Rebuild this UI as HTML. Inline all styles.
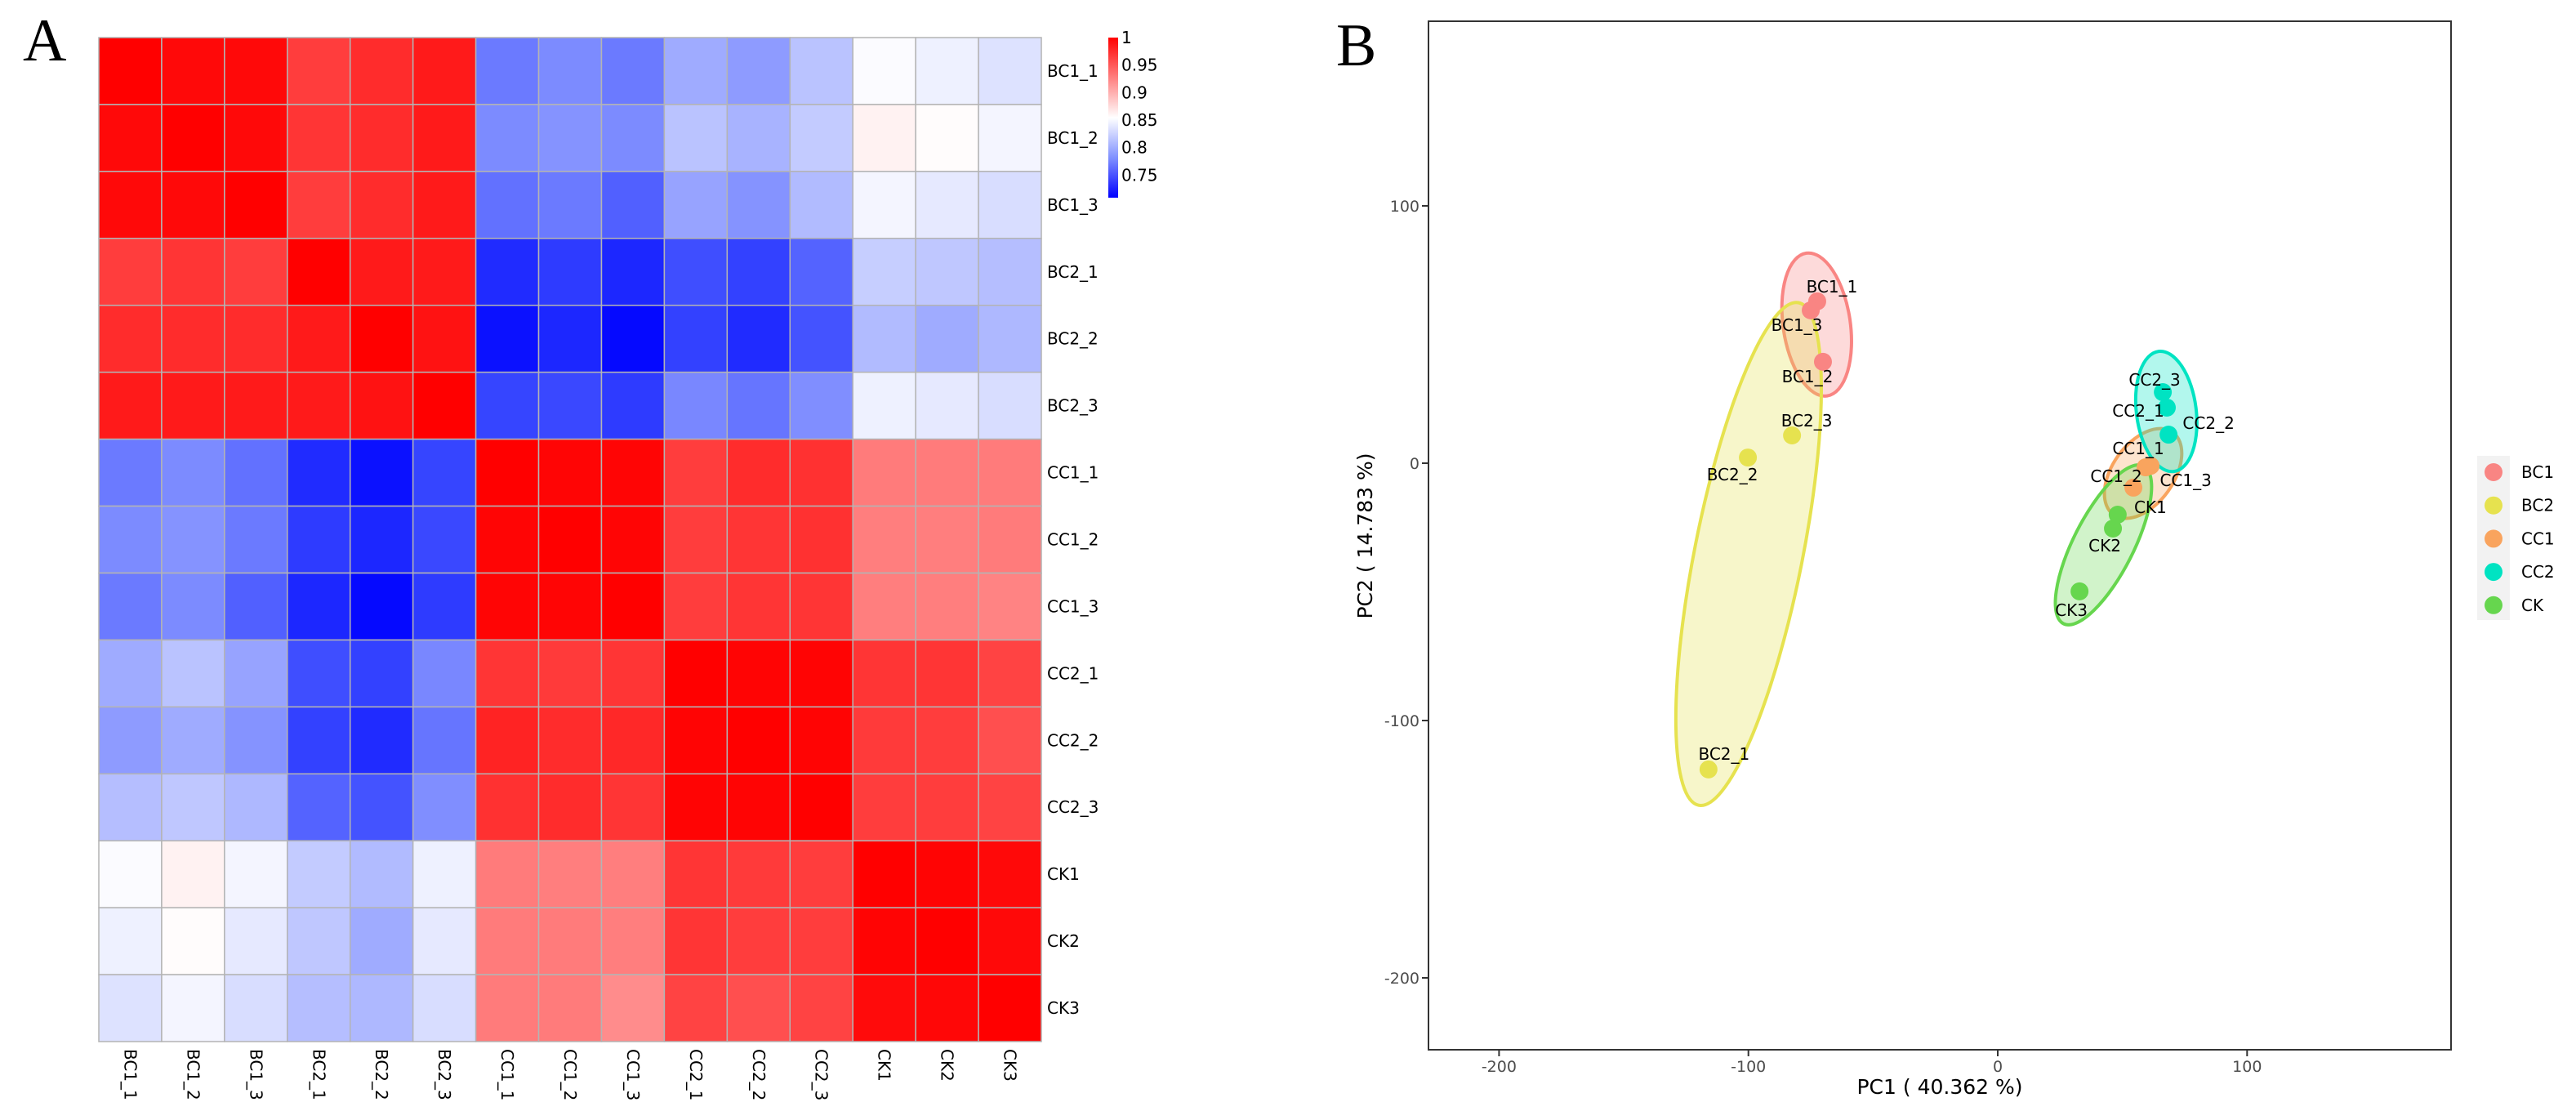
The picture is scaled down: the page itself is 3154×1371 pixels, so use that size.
<!DOCTYPE html>
<html><head><meta charset="utf-8">
<style>
html,body{margin:0;padding:0;background:#fff;}
svg{display:block;}
text{font-family:"DejaVu Sans","Liberation Sans",sans-serif;}
</style></head>
<body>
<svg id="fig" width="3154" height="1371" viewBox="0 0 3154 1371" xmlns="http://www.w3.org/2000/svg">
<rect width="3154" height="1371" fill="#fff"/>
<text x="28" y="74" font-size="74" style="font-family:'Liberation Serif',serif">A</text>
<text x="1636" y="80" font-size="74" style="font-family:'Liberation Serif',serif">B</text>
<g id="heat"></g>
<g id="pca"></g>
</svg>
<script>
const samples = ["BC1_1","BC1_2","BC1_3","BC2_1","BC2_2","BC2_3","CC1_1","CC1_2","CC1_3","CC2_1","CC2_2","CC2_3","CK1","CK2","CK3"];
const corr = [
[1,0.995,0.995,0.965,0.975,0.985,0.77,0.78,0.77,0.80,0.79,0.815,0.852,0.845,0.835],
[0.995,1,0.995,0.97,0.975,0.985,0.78,0.785,0.78,0.815,0.805,0.82,0.862,0.856,0.848],
[0.995,0.995,1,0.965,0.975,0.985,0.765,0.77,0.755,0.795,0.785,0.81,0.848,0.84,0.832],
[0.965,0.97,0.965,1,0.985,0.985,0.727,0.735,0.725,0.745,0.738,0.757,0.822,0.818,0.812],
[0.975,0.975,0.975,0.985,1,0.99,0.715,0.725,0.712,0.738,0.727,0.748,0.81,0.8,0.808],
[0.985,0.985,0.985,0.985,0.99,1,0.74,0.742,0.735,0.778,0.767,0.782,0.845,0.84,0.832],
[0.77,0.78,0.765,0.727,0.715,0.74,1,0.997,0.997,0.965,0.975,0.972,0.93,0.93,0.93],
[0.78,0.785,0.77,0.735,0.725,0.742,0.997,1,0.997,0.965,0.97,0.972,0.928,0.928,0.93],
[0.77,0.78,0.755,0.725,0.712,0.735,0.997,0.997,1,0.965,0.97,0.97,0.928,0.928,0.925],
[0.80,0.815,0.795,0.745,0.738,0.778,0.97,0.967,0.97,1,0.998,0.998,0.97,0.97,0.962],
[0.79,0.80,0.785,0.738,0.727,0.767,0.98,0.975,0.977,0.998,1,0.998,0.967,0.965,0.955],
[0.812,0.818,0.808,0.757,0.748,0.782,0.972,0.975,0.97,0.998,0.998,1,0.965,0.965,0.962],
[0.852,0.862,0.848,0.82,0.81,0.845,0.93,0.928,0.928,0.97,0.967,0.965,1,0.998,0.995],
[0.845,0.856,0.84,0.818,0.80,0.84,0.93,0.93,0.928,0.97,0.965,0.965,0.998,1,0.995],
[0.835,0.848,0.832,0.812,0.808,0.832,0.93,0.93,0.92,0.962,0.955,0.962,0.994,0.996,1]];
const colorbarTicks = [1,0.95,0.9,0.85,0.8,0.75];

const groups = ["BC1","BC2","CC1","CC2","CK"];
const groupColors = ["#F98583","#E6E24F","#F9A45E","#00E3C2","#66D64E"];
const pcaLabels = ["BC1_1","BC1_3","BC1_2","BC2_1","BC2_2","BC2_3","CC1_1","CC1_3","CC1_2","CC2_3","CC2_1","CC2_2","CK1","CK2","CK3"];
const pcaGroup = ["BC1","BC1","BC1","BC2","BC2","BC2","CC1","CC1","CC1","CC2","CC2","CC2","CK","CK","CK"];
const pc1 = [-72.4,-75,-70.1,-116,-100.2,-82.5,59.3,61.3,54.4,66.2,67.8,68.5,48.1,46.2,32.8];
const pc2 = [62.9,59.4,39.4,-119,2.2,10.8,-1.6,-1,-9.5,27.6,21.6,11.1,-20,-25.4,-49.8];
const xTicks = [-200,-100,0,100];
const yTicks = [100,0,-100,-200];

const NS="http://www.w3.org/2000/svg";
function mk(tag,attrs,parent){const e=document.createElementNS(NS,tag);for(const k in attrs)e.setAttribute(k,attrs[k]);parent.appendChild(e);return e;}

// ---------- Heatmap ----------
const heat=document.getElementById('heat');
const HX0=121,HY0=46,CW=(1275-121)/15,CH=(1275-46)/15;
const vmin=0.709,vmax=1.0,vmid=(vmin+vmax)/2;
function colorOf(v){
  v=Math.max(vmin,Math.min(vmax,v));
  if(v>=vmid){const t=(v-vmid)/(vmax-vmid);const g=Math.round(255*(1-t));return `rgb(255,${g},${g})`;}
  const t=(vmid-v)/(vmid-vmin);
  const r=Math.round(255*Math.pow(1-t,1.0)), g=Math.round(255*Math.pow(1-t,0.85));
  return `rgb(${r},${g},255)`;
}
const colX=i=>HX0+i*CW, rowY=i=>HY0+i*CH;
for(let r=0;r<samples.length;r++){
  for(let c=0;c<samples.length;c++){
    const cell=mk('rect',{x:colX(c),y:rowY(r),width:CW,height:CH,fill:colorOf(corr[r][c]),stroke:'#b4b4b4','stroke-width':1.5},heat);
    
    
  }
  const rl=mk('text',{x:1282,y:rowY(r)+CH/2+7,'font-size':20,fill:'#000'},heat);
  rl.textContent=samples[r];
  
  
}
for(let c=0;c<samples.length;c++){
  const cx=colX(c)+CW/2-7, cy=1284;
  const cl=mk('text',{x:cx,y:cy,'font-size':20,fill:'#000',transform:`rotate(90 ${cx} ${cy})`},heat);
  cl.textContent=samples[c];
  
  
}
// colorbar
const CBX=1357,CBW=12,CBT=46,CBB=242;
const cbY=v=>CBT+(vmax-v)/(vmax-vmin)*(CBB-CBT);
const defs=mk('defs',{},heat);
const lg=mk('linearGradient',{id:'cbg',x1:0,y1:0,x2:0,y2:1},defs);
mk('stop',{offset:'0','stop-color':'rgb(255,0,0)'},lg);
mk('stop',{offset:'0.5','stop-color':'rgb(255,255,255)'},lg);
mk('stop',{offset:'0.75','stop-color':'rgb(128,145,255)'},lg);
mk('stop',{offset:'1','stop-color':'rgb(0,0,255)'},lg);
const cb=mk('rect',{x:CBX,y:CBT,width:CBW,height:CBB-CBT,fill:'url(#cbg)'},heat);


colorbarTicks.forEach(v=>{
  const t=mk('text',{x:CBX+CBW+4,y:cbY(v)+7,'font-size':20,fill:'#000'},heat);
  t.textContent=String(v);
  
  
});

// ---------- PCA ----------
const pca=document.getElementById('pca');
const PX0=1749,PX1=3001,PY0=26,PY1=1285;
const XZ=2446,XS=3.053,YZ=567,YS=3.15;
const sx=v=>XZ+v*XS, sy=v=>YZ-v*YS;
groups.forEach((g,gi)=>{
  const pts=[];
  pcaGroup.forEach((pg,i)=>{if(pg===g)pts.push([sx(pc1[i]),sy(pc2[i])]);});
  const n=pts.length;
  const mx=pts.reduce((a,p)=>a+p[0],0)/n, my=pts.reduce((a,p)=>a+p[1],0)/n;
  let sxx=0,syy=0,sxy=0;
  pts.forEach(p=>{const dx=p[0]-mx,dy=p[1]-my;sxx+=dx*dx;syy+=dy*dy;sxy+=dx*dy;});
  const ang=0.5*Math.atan2(2*sxy,sxx-syy);
  const ux=Math.cos(ang),uy=Math.sin(ang),vx=-uy,vy=ux;
  let tmin=1e9,tmax=-1e9,smin=1e9,smax=-1e9;
  pts.forEach(p=>{const dx=p[0]-mx,dy=p[1]-my;const t=dx*ux+dy*uy,s=dx*vx+dy*vy;
    tmin=Math.min(tmin,t);tmax=Math.max(tmax,t);smin=Math.min(smin,s);smax=Math.max(smax,s);});
  const cx=mx+vx*(smin+smax)/2, cy=my+vy*(smin+smax)/2;
  const a=(tmax-tmin)/2*1.3+40, b=(smax-smin)/2*1.3+35;
  const el=mk('ellipse',{cx:cx,cy:cy,rx:a,ry:b,transform:`rotate(${ang*180/Math.PI} ${cx} ${cy})`,
    fill:groupColors[gi],'fill-opacity':0.3,stroke:groupColors[gi],'stroke-width':4},pca);
  
  
});
pc1.forEach((v,i)=>{
  const gi=groups.indexOf(pcaGroup[i]);
  const c=mk('circle',{cx:sx(v),cy:sy(pc2[i]),r:11,fill:groupColors[gi]},pca);
  
  
});
const labOff={BC1_1:[18,-18],BC1_3:[-17,18],BC1_2:[-19,18],BC2_3:[18,-18],BC2_2:[-19,21],BC2_1:[19,-19],
CC2_3:[-10,-15],CC2_1:[-35,4],CC2_2:[49,-14],CC1_1:[-9,-23],CC1_2:[-21,-14],CC1_3:[43,18],CK1:[40,-9],CK2:[-10,21],CK3:[-10,23]};
pcaLabels.forEach((l,i)=>{
  const o=labOff[l];
  const t=mk('text',{x:sx(pc1[i])+o[0],y:sy(pc2[i])+o[1]+7,'font-size':20,'text-anchor':'middle',fill:'#000'},pca);
  t.textContent=l;
  
  
});
const fr=mk('rect',{x:PX0,y:PY0,width:PX1-PX0,height:PY1-PY0,fill:'none',stroke:'#333','stroke-width':2},pca);


xTicks.forEach(v=>{
  mk('line',{x1:sx(v),x2:sx(v),y1:PY1,y2:PY1+8,stroke:'#333','stroke-width':2},pca);
  const t=mk('text',{x:sx(v),y:PY1+27,'font-size':19,'text-anchor':'middle',fill:'#4d4d4d'},pca);
  t.textContent=String(v);
  
  
});
yTicks.forEach(v=>{
  mk('line',{x1:PX0-8,x2:PX0,y1:sy(v),y2:sy(v),stroke:'#333','stroke-width':2},pca);
  const t=mk('text',{x:PX0-11,y:sy(v)+7,'font-size':19,'text-anchor':'end',fill:'#4d4d4d'},pca);
  t.textContent=String(v);
  
  
});
const xt=mk('text',{x:2375,y:1339,'font-size':25,'text-anchor':'middle',fill:'#000'},pca);
xt.textContent='PC1 ( 40.362 %)';


const yt=mk('text',{x:1680,y:656,'font-size':25,'text-anchor':'middle',fill:'#000',transform:'rotate(-90 1680 656)'},pca);
yt.textContent='PC2 ( 14.783 %)';


const lb=mk('rect',{x:3033,y:558,width:40,height:201,fill:'#f2f2f2'},pca);


groups.forEach((g,gi)=>{
  const y=578+gi*40.7;
  const c=mk('circle',{cx:3053,cy:y,r:11,fill:groupColors[gi]},pca);
  
  
  const t=mk('text',{x:3087,y:y+7,'font-size':20,fill:'#000'},pca);
  t.textContent=g;
  
  
});
</script>
</body></html>
